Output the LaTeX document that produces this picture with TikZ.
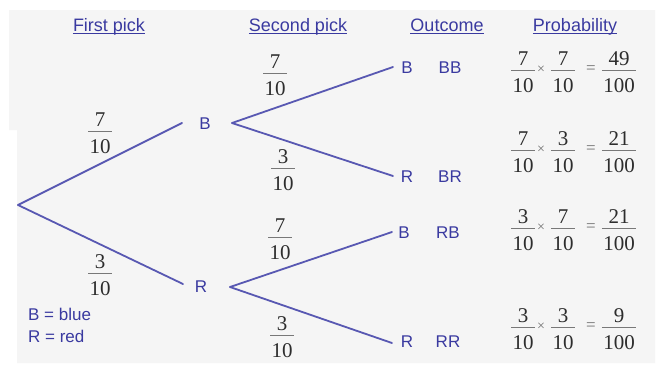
\documentclass[tikz,border=0pt]{standalone}
\usepackage{fontspec}
\setmainfont{Liberation Serif}
\newfontfamily\lsans{Liberation Sans}
\usetikzlibrary{calc}
\definecolor{txtblue}{RGB}{58,58,160}
\definecolor{lineblue}{RGB}{88,88,178}
\definecolor{bgc}{RGB}{245,245,245}
\definecolor{numc}{RGB}{45,45,45}
\definecolor{barc}{RGB}{120,120,120}
\definecolor{opc}{RGB}{110,110,110}
\tikzset{
  header/.style={font=\lsans\fontsize{18}{21}\selectfont, text=txtblue, inner sep=0pt, anchor=base},
  uline/.style={draw=txtblue, line width=0.9pt},
  letter/.style={font=\lsans\fontsize{17}{20}\selectfont, text=txtblue, inner sep=0pt},
  legend/.style={font=\lsans\fontsize{17}{20}\selectfont, text=txtblue, inner sep=0pt, anchor=west},
  branch/.style={draw=lineblue, line width=1.8pt, line cap=round},
  fnum/.style={font=\fontsize{21}{24}\selectfont, text=numc, inner sep=0pt},
  fbar/.style={draw=barc, line width=0.8pt, shorten <=-1.2pt, shorten >=-1.2pt},
  opsign/.style={font=\fontsize{17}{20}\selectfont, text=opc, inner sep=0pt},
}
% name, x, bar y, numerator, denominator
\newcommand\fracnode[5]{%
  \coordinate (#1c) at (#2,#3);
  \node[fnum] (#1n) at (#2,#3-11) {#4};
  \node[fnum] (#1d) at (#2,#3+16) {#5};
  \draw[fbar] (#1d.west |- #1c) -- (#1d.east |- #1c);
}
% name, bar y, a, b, c, d, result numerator
\newcommand\probrow[7]{%
  \fracnode{#1a}{523}{#2}{#3}{#4}
  \node[opsign, font=\fontsize{14}{16}\selectfont] (#1x) at (541,#2) {×};
  \fracnode{#1b}{563}{#2}{#5}{#6}
  \node[opsign] (#1e) at (591,#2) {=};
  \fracnode{#1r}{619}{#2}{#7}{100}
}
\begin{document}
\begin{tikzpicture}[x=1pt,y=-1pt]
\useasboundingbox (0,0) rectangle (663,367);
\fill[white] (0,0) rectangle (663,367);
\fill[bgc] (9,10) -- (655,10) -- (655,363) -- (17,363) -- (17,130) -- (9,130) -- cycle;

% headers
\node[header] (h1) at (109,31) {First pick};
\node[header] (h2) at (298,31) {Second pick};
\node[header] (h3) at (447,31) {Outcome};
\node[header] (h4) at (575,31) {Probability};
\foreach \h in {h1,h2,h3,h4}{
  \draw[uline] ($(\h.base west)+(0,2.5)$) -- ($(\h.base east)+(0,2.5)$);
}

% tree points
\coordinate (root) at (18,205);
\coordinate (e1) at (182,123);
\coordinate (e2) at (183,284);
\coordinate (fb) at (232,123);
\coordinate (fr) at (230,287);
\coordinate (e3) at (393,67);
\coordinate (e4) at (393,176);
\coordinate (e5) at (392,232);
\coordinate (e6) at (392,343);

\draw[branch] (root) -- (e1);
\draw[branch] (root) -- (e2);
\draw[branch] (fb) -- (e3);
\draw[branch] (fb) -- (e4);
\draw[branch] (fr) -- (e5);
\draw[branch] (fr) -- (e6);

% letters
\node[letter] (b1) at (205,124) {B};
\node[letter] (r1) at (201,287) {R};
\node[letter] (b2) at (407,68) {B};
\node[letter] (r2) at (407,177) {R};
\node[letter] (b3) at (404,233) {B};
\node[letter] (r3) at (407,342) {R};
\node[letter] (o1) at (450,68) {BB};
\node[letter] (o2) at (450,177) {BR};
\node[letter] (o3) at (448,233) {RB};
\node[letter] (o4) at (448,342) {RR};

% branch fractions
\fracnode{f1}{100}{131}{7}{10}
\fracnode{f2}{100}{273}{3}{10}
\fracnode{f3}{275}{73}{7}{10}
\fracnode{f4}{283}{168}{3}{10}
\fracnode{f5}{280}{237}{7}{10}
\fracnode{f6}{282}{335}{3}{10}

% probabilities
\probrow{p1}{70}{7}{10}{7}{10}{49}
\probrow{p2}{150}{7}{10}{3}{10}{21}
\probrow{p3}{228}{3}{10}{7}{10}{21}
\probrow{p4}{327}{3}{10}{3}{10}{9}

% legend
\node[legend] (l1) at (28,314) {B = blue};
\node[legend] (l2) at (28,336) {R = red};
\end{tikzpicture}
\end{document}
